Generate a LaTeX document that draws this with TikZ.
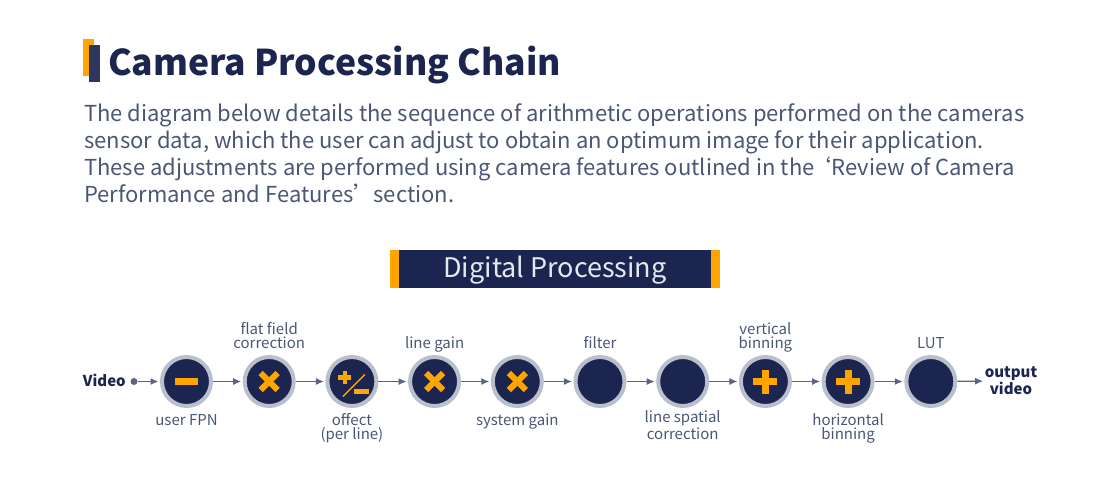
\documentclass[tikz,border=0pt]{standalone}
\usepackage{fontspec}
\setmainfont{Noto Sans CJK SC}
\usetikzlibrary{arrows.meta}
\usetikzlibrary{positioning}
\definecolor{mynavy}{HTML}{1B2550}
\definecolor{myorange}{HTML}{FFA500}
\definecolor{myring}{HTML}{B9BFCB}
\definecolor{mytext}{HTML}{4B5677}
\definecolor{myline}{HTML}{5B6483}
\definecolor{myhead}{HTML}{E5E8EF}
\tikzset{pics/op minus/.style={code={
\fill[myorange] (-11.5,-3.5) rectangle (11.5,3.5);
}}}
\tikzset{pics/op times/.style={code={
\fill[myorange,rotate=45] (-12,-3) rectangle (12,3);
\fill[myorange,rotate=-45] (-12,-3) rectangle (12,3);
}}}
\tikzset{pics/op plus/.style={code={
\fill[myorange] (-12,-3.5) rectangle (12,3.5);
\fill[myorange] (-3.5,-12) rectangle (3.5,12);
}}}
\tikzset{pics/op plusminus/.style={code={
\fill[myorange] (-13.5,-6.25) rectangle (-0.5,-1.75);
\fill[myorange] (-9.25,-10.5) rectangle (-4.75,2.5);
\fill[myorange] (1.7,7.75) rectangle (16.7,12.25);
\draw[myorange,line width=1.5] (-9,15) -- (13,-7);
}}}
\tikzset{pics/op none/.style={code={}}}
\tikzset{
  op/.style={circle,fill=mynavy,draw=myring,line width=4,minimum size=49,inner sep=0},
  lbl/.style={font=\fontsize{15}{14}\selectfont,text=mytext,align=center,inner sep=0},
  connect arrow/.style={-{Latex[length=8,width=7]},line width=1.3,myline,shorten >=1.5}
}
\begin{document}
\begin{tikzpicture}[x=1pt,y=-1pt]
\useasboundingbox (0,0) rectangle (1110,500);
% heading
\fill[myorange] (83,39) rectangle (94,76);
\fill[mynavy!92!white] (89,45) rectangle (100,82);
\node[anchor=base west,inner sep=0,font=\fontsize{35.5}{40}\selectfont\bfseries,text=mynavy] (title) at (108,76) {Camera Processing Chain};
% base of a multi-line node = its last line
\node[anchor=base west,inner sep=0,align=left,font=\fontsize{22}{26.7}\selectfont,text=mytext] (desc) at (84,202)
{The diagram below details the sequence of arithmetic operations performed on the cameras\\
sensor data, which the user can adjust to obtain an optimum image for their application.\\
These adjustments are performed using camera features outlined in the\kern-5pt‘Review of Camera\\
Performance and Features’\kern-2pt section.};
% box
\fill[myorange] (390,250) rectangle (720,288);
\fill[mynavy] (399,250) rectangle (711,288);
\node[anchor=base,inner sep=0,font=\fontsize{27}{30}\selectfont,text=myhead] (head) at (555,277) {Digital Processing};
% chain (yshift is not flipped by y=-1pt)
\node[anchor=base east,inner sep=0,font=\fontsize{15}{17}\selectfont\bfseries,text=mynavy] (vid) at (126,386.5) {Video};
\node[circle,fill=myline,inner sep=0,minimum size=7] (vin) at (134,381.5) {};
\foreach \X/\Top/\Bot/\N [count=\Y] in {minus/{}/{user FPN}/1,
  times/{flat field\\correction}/{}/1,
  plusminus/{}/{offect\\(per line)}/2,
  times/{line gain}/{}/1,
  times/{}/{system gain}/1,
  none/{filter}/{}/1,
  none/{}/{line spatial\\correction}/2,
  plus/{vertical\\binning}/{}/1,
  plus/{}/{horizontal\\binning}/2,
  none/{LUT}/{}/1}
{
  \node[op] (c\Y) at ({186.5+82.7*(\Y-1)},381.5) {};
  \pic at (c\Y) {op \X};
  \node[lbl,anchor=base] (t\Y) at (c\Y.center) [yshift=33.5] {\Top};
  \node[lbl,anchor=base] (b\Y) at (c\Y.center) [yshift={-43.5-14*(\N-1)}] {\Bot};
}
\node[inner sep=0,align=center,font=\fontsize{15}{17}\selectfont\bfseries,text=mynavy] (out) at (1011,381) {output\\video};
\draw[connect arrow] (vin) -- (c1);
\foreach \X [count=\Y from 2] in {1,...,9}
{\draw[connect arrow] (c\X) -- (c\Y);}
\draw[connect arrow] (c10) -- (out);
\end{tikzpicture}
\end{document}
